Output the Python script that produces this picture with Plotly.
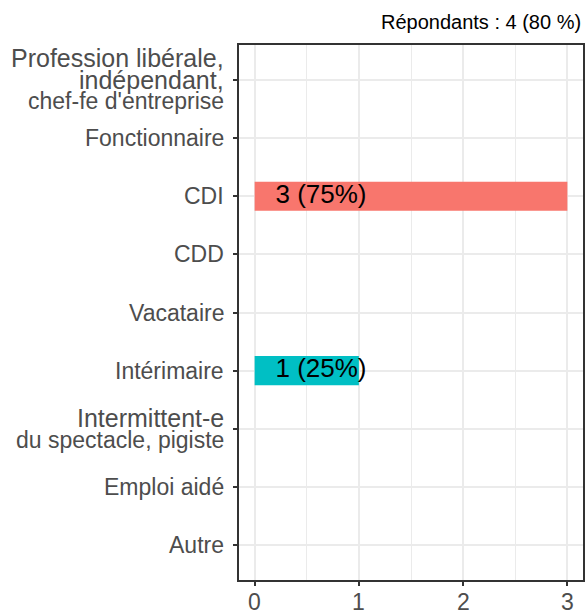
import plotly.graph_objects as go

categories = [
    "Profession libérale,\nindépendant,\nchef-fe d'entreprise",
    "Fonctionnaire",
    "CDI",
    "CDD",
    "Vacataire",
    "Intérimaire",
    "Intermittent-e\ndu spectacle, pigiste",
    "Emploi aidé",
    "Autre",
]
counts = [0, 0, 3, 0, 0, 1, 0, 0, 0]
bar_colors = ["#F8766D", "#F8766D", "#F8766D", "#F8766D", "#F8766D",
              "#00BFC4", "#00BFC4", "#00BFC4", "#00BFC4"]
respondents = 4
respondent_pct = 80
x_ticks = [0, 1, 2, 3]

FONT = "Liberation Sans, Arial, Helvetica, sans-serif"
LABEL_OFFSET = 0.2
TICK_FONT = 23
FIRST_LINES_FONT = 25
LINE_GAP = 21.5

total = sum(counts)
lab_y = [c for c, v in zip(categories, counts) if v > 0]
lab_txt = [f"{v} ({round(100 * v / total)}%)" for v in counts if v > 0]

fig = go.Figure()
fig.add_trace(go.Bar(
    y=categories, x=counts, orientation="h",
    marker=dict(color=bar_colors, line=dict(width=0)),
    width=0.5, showlegend=False, hoverinfo="skip",
))
fig.add_trace(go.Scatter(
    y=lab_y, x=[LABEL_OFFSET] * len(lab_y), mode="text",
    text=lab_txt, textposition="middle right",
    textfont=dict(family=FONT, size=26, color="black"),
    showlegend=False, hoverinfo="skip", cliponaxis=False,
))

annotations = [dict(
    text=f"Répondants : {respondents} ({respondent_pct} %)",
    xref="paper", yref="paper", x=1.0, y=1.0,
    xanchor="right", yanchor="bottom", yshift=10,
    showarrow=False, font=dict(family=FONT, size=20, color="black"),
)]
# y tick labels drawn line by line (tighter line spacing, like ggplot)
for cat in categories:
    lines = cat.split("\n")
    n = len(lines)
    for i, line in enumerate(lines):
        size = FIRST_LINES_FONT if (n > 1 and i < n - 1) else TICK_FONT
        annotations.append(dict(
            text=line, xref="paper", yref="y", x=0, y=cat,
            xanchor="right", yanchor="middle", xshift=-13,
            yshift=((n - 1) / 2 - i) * LINE_GAP,
            showarrow=False,
            font=dict(family=FONT, size=size, color="#4D4D4D"),
        ))
# x tick labels
for t in x_ticks:
    annotations.append(dict(
        text=str(t), xref="x", yref="paper", x=t, y=0,
        xanchor="center", yanchor="middle", yshift=-22,
        showarrow=False,
        font=dict(family=FONT, size=TICK_FONT, color="#4D4D4D"),
    ))

fig.update_layout(
    width=586, height=611,
    margin=dict(l=239, r=3, t=45, b=31, autoexpand=False),
    plot_bgcolor="white", paper_bgcolor="white",
    font=dict(family=FONT),
    annotations=annotations,
)
fig.update_xaxes(
    automargin=False,
    range=[-0.15, 3.15], tickvals=x_ticks, showticklabels=False,
    showgrid=True, gridcolor="#EBEBEB", gridwidth=2,
    minor=dict(dtick=0.5, showgrid=True, gridcolor="#EBEBEB", gridwidth=1),
    zeroline=False,
    showline=True, mirror=True, linecolor="#333333", linewidth=2,
    ticks="outside", ticklen=4, tickwidth=2, tickcolor="#333333",
)
fig.update_yaxes(
    automargin=False,
    type="category", categoryorder="array", categoryarray=categories,
    range=[len(categories) - 0.4, -0.6],
    showticklabels=False,
    showgrid=True, gridcolor="#EBEBEB", gridwidth=2,
    zeroline=False,
    showline=True, mirror=True, linecolor="#333333", linewidth=2,
    ticks="outside", ticklen=4, tickwidth=2, tickcolor="#333333",
)

fig.write_html("out.html", config={"displayModeBar": False},
               post_script="document.body.style.margin='0px';")
